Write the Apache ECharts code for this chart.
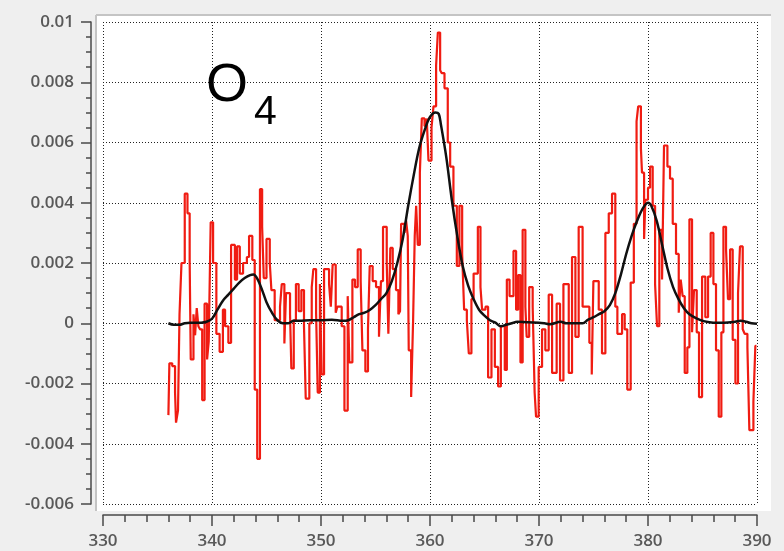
<!DOCTYPE html>
<html>
<head>
<meta charset="utf-8">
<script src="https://cdn.jsdelivr.net/npm/echarts@6/dist/echarts.min.js"></script>
<style>
  html, body { margin: 0; padding: 0; background: #efefef; }
  #chart { width: 784px; height: 551px; }
</style>
</head>
<body>
<div id="chart"></div>
<script>
// Measured differential absorbance (step trace), wavelength in nm
const measX = [
  336.00, 336.09, 336.35, 336.61, 336.70, 336.88, 337.02, 337.20, 337.50, 337.75,
  337.95, 338.05, 338.30, 338.45, 338.60, 338.75, 338.90, 339.10, 339.32, 339.55,
  339.70, 339.88, 340.10, 340.40, 340.70, 341.00, 341.20, 341.50, 341.75, 342.10,
  342.30, 342.55, 342.85, 343.20, 343.40, 343.70, 343.92, 344.15, 344.40, 344.60,
  344.75, 345.00, 345.30, 345.45, 345.75, 346.24, 346.40, 346.64, 346.79, 347.16,
  347.28, 347.50, 347.70, 347.95, 348.20, 348.44, 348.60, 348.93, 349.15, 349.30,
  349.55, 349.70, 349.90, 350.06, 350.28, 350.74, 350.90, 351.07, 351.35, 351.50,
  351.90, 352.15, 352.45, 352.60, 352.88, 353.12, 353.37, 353.64, 353.80, 354.07,
  354.31, 354.47, 354.74, 355.05, 355.32, 355.50, 355.69, 356.03, 356.18, 356.36,
  356.58, 356.88, 357.10, 357.25, 357.35, 357.66, 357.81, 357.96, 358.05, 358.27,
  358.45, 358.60, 358.73, 358.88, 359.07, 359.25, 359.50, 359.70, 359.86, 360.14,
  360.32, 360.56, 360.72, 360.93, 361.08, 361.33, 361.63, 361.85, 362.15, 362.46,
  362.70, 362.95, 363.13, 363.38, 363.56, 363.80, 364.00, 364.39, 364.63, 364.78,
  365.09, 365.33, 365.64, 365.95, 366.25, 366.50, 366.86, 367.05, 367.30, 367.66,
  367.90, 368.09, 368.30, 368.50, 368.75, 368.87, 369.10, 369.42, 369.60, 369.73,
  369.97, 370.28, 370.58, 370.89, 371.20, 371.62, 371.93, 372.24, 372.73, 373.03,
  373.34, 373.64, 374.00, 374.62, 374.84, 374.99, 375.48, 375.78, 376.09, 376.40,
  376.70, 377.00, 377.19, 377.62, 377.86, 378.10, 378.41, 378.70, 378.95, 379.10,
  379.35, 379.45, 379.64, 379.76, 380.00, 380.19, 380.43, 380.65, 380.83, 381.04,
  381.29, 381.47, 381.78, 382.02, 382.27, 382.57, 382.82, 383.00, 383.18, 383.37,
  383.61, 383.80, 384.04, 384.22, 384.47, 384.68, 384.96, 385.26, 385.51, 385.75,
  386.00, 386.24, 386.49, 386.73, 386.92, 387.16, 387.34, 387.53, 387.77, 388.02,
  388.26, 388.44, 388.69, 388.87, 389.12, 389.30, 389.67, 389.85, 389.95
];
const measY = [
  -0.00305, -0.00133, -0.00142, -0.00230, -0.00330, -0.00290, 0.00030, 0.00200, 0.00430, 0.00365,
  0.00210, -0.00120, 0.00030, -0.00040, 0.00050, -0.00010, -0.00020, -0.00255, 0.00065, -0.00120,
  -0.00060, 0.00335, 0.00200, -0.00035, -0.00095, 0.00045, -0.00010, -0.00065, 0.00260, 0.00145,
  0.00255, 0.00165, 0.00200, 0.00220, 0.00290, 0.00210, -0.00220, -0.00450, 0.00445, 0.00320,
  0.00150, 0.00280, 0.00200, 0.00110, 0.00010, 0.00055, 0.00130, -0.00067, 0.00100, 0.00030,
  -0.00150, 0.00010, 0.00130, 0.00040, 0.00110, -0.00010, -0.00250, 0.00000, 0.00120, 0.00180,
  0.00035, -0.00230, 0.00130, -0.00170, 0.00180, 0.00130, 0.00055, 0.00195, 0.00035, 0.00055,
  -0.00010, -0.00290, 0.00090, -0.00130, 0.00145, 0.00120, 0.00245, 0.00140, -0.00090, -0.00160,
  -0.00020, 0.00190, 0.00140, 0.00120, -0.00045, 0.00140, 0.00320, 0.00200, -0.00035, 0.00250,
  0.00180, 0.00110, 0.00030, 0.00040, 0.00330, 0.00300, 0.00340, 0.00290, -0.00090, -0.00245,
  0.00010, 0.00290, 0.00390, 0.00260, 0.00500, 0.00680, 0.00655, 0.00680, 0.00540, 0.00650,
  0.00720, 0.00855, 0.00965, 0.00840, 0.00830, 0.00780, 0.00600, 0.00520, 0.00390, 0.00190,
  0.00390, 0.00230, 0.00045, 0.00010, -0.00100, 0.00080, 0.00165, 0.00320, 0.00120, 0.00045,
  0.00055, -0.00180, -0.00020, -0.00145, -0.00210, -0.00010, -0.00155, 0.00145, 0.00090, 0.00240,
  0.00045, 0.00160, -0.00130, 0.00310, 0.00055, -0.00045, 0.00120, 0.00055, -0.00230, -0.00310,
  -0.00145, -0.00020, -0.00090, 0.00095, -0.00165, 0.00065, -0.00190, 0.00130, -0.00165, 0.00220,
  -0.00045, 0.00320, 0.00055, -0.00065, -0.00170, 0.00140, 0.00045, -0.00100, 0.00300, 0.00365,
  0.00430, 0.00055, -0.00035, 0.00030, -0.00020, -0.00220, 0.00135, 0.00330, 0.00670, 0.00720,
  0.00580, 0.00500, 0.00280, 0.00410, 0.00450, 0.00520, 0.00390, 0.00130, -0.00010, 0.00310,
  0.00145, 0.00590, 0.00520, 0.00480, 0.00330, 0.00230, 0.00035, 0.00145, 0.00090, -0.00165,
  -0.00080, 0.00345, -0.00030, 0.00110, -0.00030, -0.00245, 0.00155, 0.00020, 0.00155, 0.00300,
  0.00130, -0.00090, -0.00310, -0.00030, 0.00320, 0.00245, 0.00080, 0.00245, -0.00055, -0.00200,
  0.00100, 0.00255, -0.00020, -0.00035, -0.00080, -0.00355, -0.00260, -0.00075, -0.00075
];

// Fitted O4 cross-section (smooth curve)
const fitX = [
  336.0, 336.5, 337.0, 337.5, 338.0, 338.5, 339.0, 339.5, 340.0, 340.5,
  341.0, 341.5, 342.0, 342.5, 343.0, 343.5, 343.8, 344.2, 344.6, 345.0,
  345.5, 346.0, 346.5, 347.0, 347.5, 348.0, 349.0, 350.0, 351.0, 352.0,
  352.5, 353.0, 353.5, 354.0, 354.5, 355.0, 355.5, 356.0, 356.5, 357.0,
  357.5, 358.0, 358.5, 359.0, 359.5, 360.0, 360.5, 360.8, 361.0, 361.5,
  362.0, 362.5, 363.0, 363.5, 364.0, 364.5, 365.0, 365.5, 366.0, 366.5,
  367.0, 367.5, 368.0, 369.0, 370.0, 370.5, 371.0, 372.0, 372.5, 373.0,
  374.0, 374.5, 375.0, 375.5, 376.0, 376.5, 377.0, 377.5, 378.0, 378.5,
  379.0, 379.5, 380.0, 380.3, 380.8, 381.3, 381.8, 382.3, 382.8, 383.3,
  383.8, 384.5, 385.0, 386.0, 387.0, 388.0, 388.5, 389.0, 389.5, 390.0
];
const fitY = [
  0.00000, -0.00005, -0.00005, 0.00000, 0.00002, 0.00002, 0.00002, 0.00005, 0.00015, 0.00045,
  0.00075, 0.00095, 0.00115, 0.00135, 0.00150, 0.00160, 0.00162, 0.00145, 0.00110, 0.00070,
  0.00035, 0.00010, 0.00000, 0.00000, 0.00008, 0.00008, 0.00010, 0.00010, 0.00012, 0.00008,
  0.00010, 0.00020, 0.00030, 0.00035, 0.00045, 0.00060, 0.00080, 0.00100, 0.00140, 0.00200,
  0.00280, 0.00390, 0.00490, 0.00580, 0.00640, 0.00685, 0.00700, 0.00695, 0.00660, 0.00550,
  0.00410, 0.00290, 0.00190, 0.00125, 0.00080, 0.00045, 0.00025, 0.00010, 0.00002, -0.00010,
  -0.00005, 0.00000, 0.00005, 0.00003, 0.00002, 0.00000, -0.00003, 0.00005, 0.00000, 0.00000,
  0.00000, 0.00012, 0.00020, 0.00030, 0.00040, 0.00060, 0.00100, 0.00160, 0.00230, 0.00290,
  0.00340, 0.00380, 0.00400, 0.00390, 0.00340, 0.00260, 0.00180, 0.00120, 0.00080, 0.00050,
  0.00030, 0.00015, 0.00008, 0.00002, 0.00002, 0.00005, 0.00008, 0.00005, 0.00000, -0.00002
];

// Axis ranges
const xRange = { min: 330, max: 390, step: 10 };
const yRange = { min: -0.006, max: 0.01, step: 0.002 };

const pair = (xs, ys) => xs.map((x, i) => [x, ys[i]]);

const chart = echarts.init(document.getElementById('chart'), null, { renderer: 'canvas' });

const labelStyle = {
  fontFamily: 'Open Sans',
  fontSize: 17,
  fontWeight: 600,
  color: '#595959'
};

const tickLine = { color: '#4a4a4a', width: 1.5 };
const dotted = { color: '#222222', width: 1, type: [1, 2] };

chart.setOption({
  animation: false,
  backgroundColor: '#efefef',
  grid: { left: 103, right: 27, top: 22, bottom: 47, containLabel: false },
  graphic: [
    { type: 'rect', z: -1, shape: { x: 96, y: 15, width: 675, height: 496 },
      style: { fill: '#ffffff' } },
    { type: 'line', z: -1, shape: { x1: 96, y1: 15, x2: 96, y2: 511 },
      style: { stroke: '#c4c4c4', lineWidth: 2 } },
    { type: 'line', z: -1, shape: { x1: 96, y1: 15, x2: 771, y2: 15 },
      style: { stroke: '#c4c4c4', lineWidth: 2 } },
    { type: 'text', z: 10, x: 206, y: 86,
      style: { text: 'O', font: '54px "Liberation Sans", Arial, sans-serif',
               fill: '#000', verticalAlign: 'middle', align: 'left' } },
    { type: 'text', z: 10, x: 254, y: 113,
      style: { text: '4', font: '41px "Liberation Sans", Arial, sans-serif',
               fill: '#000', verticalAlign: 'middle', align: 'left' } }
  ],
  xAxis: {
    type: 'value',
    min: xRange.min, max: xRange.max, interval: xRange.step,
    offset: 11,
    axisLine: { show: true, onZero: false, lineStyle: tickLine },
    axisTick: { show: true, inside: false, length: 11, lineStyle: tickLine },
    minorTick: { show: true, splitNumber: 5, length: 7, lineStyle: tickLine },
    axisLabel: Object.assign({ margin: 18 }, labelStyle),
    splitLine: { show: true, showMinLine: true, showMaxLine: true, lineStyle: dotted }
  },
  yAxis: {
    type: 'value',
    min: yRange.min, max: yRange.max, interval: yRange.step,
    offset: 12,
    axisLine: { show: true, onZero: false, lineStyle: tickLine },
    axisTick: { show: true, inside: false, length: 10, lineStyle: tickLine },
    minorTick: { show: true, splitNumber: 4, length: 5, lineStyle: tickLine },
    axisLabel: Object.assign({ margin: 17 }, labelStyle),
    splitLine: { show: true, showMinLine: true, showMaxLine: true, lineStyle: dotted }
  },
  series: [
    {
      name: 'measured',
      type: 'line',
      step: 'end',
      data: pair(measX, measY),
      showSymbol: false,
      symbol: 'none',
      z: 3,
      lineStyle: { color: '#f01c12', width: 2.2 }
    },
    {
      name: 'fit',
      type: 'line',
      smooth: 0.35,
      data: pair(fitX, fitY),
      showSymbol: false,
      symbol: 'none',
      z: 4,
      lineStyle: { color: '#111111', width: 2.5 }
    }
  ]
});
</script>
</body>
</html>
